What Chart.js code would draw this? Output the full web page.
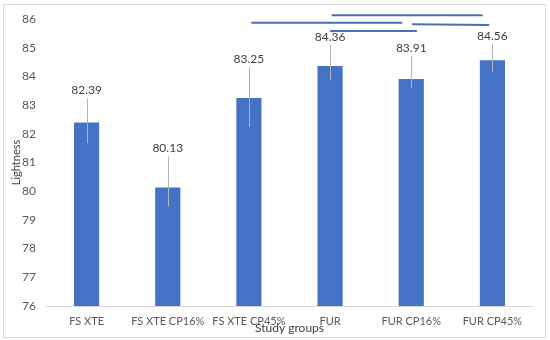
<!DOCTYPE html>
<html>
<head>
<meta charset="utf-8">
<script src="https://cdn.jsdelivr.net/npm/chart.js@4"></script>
<style>
  body { margin: 0; background: #fff; }
  #wrap { position: relative; width: 550px; height: 340px; }
  #frame { position: absolute; left: 3px; top: 4px; width: 541px; height: 332px; border: 1px solid #d9d9d9; }
  #chart { position: absolute; left: 0; top: 0; }
</style>
</head>
<body>
<div id="wrap">
  <div id="frame"></div>
  <canvas id="chart" width="550" height="340"></canvas>
</div>
<script>
// data
const groups = ["FS XTE", "FS XTE CP16%", "FS XTE CP45%", "FUR", "FUR CP16%", "FUR CP45%"];
const lightness = [82.39, 80.13, 83.25, 84.36, 83.91, 84.56];
const errUp = [0.85, 1.08, 1.07, 0.73, 0.80, 0.58];
const errDown = [0.72, 0.66, 1.0, 0.47, 0.30, 0.40];
// significance brackets: [from index, to index, y start, y end]
const sigLines = [
  [3.02, 4.88, 86.13, 86.13],
  [2.03, 3.89, 85.87, 85.87],
  [4.01, 4.96, 85.82, 85.79],
  [3.0, 4.07, 85.58, 85.58],
];
const yTicks = [76, 77, 78, 79, 80, 81, 82, 83, 84, 85, 86];

const FONT = "Lato, 'Open Sans', sans-serif";

// error bars + value labels
const errorBarPlugin = {
  id: "errorBars",
  afterDatasetsDraw(chart) {
    const ctx = chart.ctx;
    const y = chart.scales.y;
    const meta = chart.getDatasetMeta(0);
    ctx.save();
    meta.data.forEach((bar, i) => {
      const top = y.getPixelForValue(lightness[i] + errUp[i]);
      const bot = y.getPixelForValue(lightness[i] - errDown[i]);
      ctx.strokeStyle = "#b4b4b4";
      ctx.lineWidth = 1;
      ctx.beginPath();
      ctx.moveTo(Math.round(bar.x) + 0.5, top);
      ctx.lineTo(Math.round(bar.x) + 0.5, bot);
      ctx.stroke();

      ctx.fillStyle = "#404040";
      ctx.font = "12px " + FONT;
      ctx.textAlign = "center";
      ctx.textBaseline = "middle";
      ctx.fillText(lightness[i].toFixed(2), bar.x, top - 8);
    });
    ctx.restore();
  },
};

// significance lines above the bars
const sigPlugin = {
  id: "sigLines",
  afterDraw(chart) {
    const ctx = chart.ctx;
    const x = chart.scales.x;
    const y = chart.scales.y;
    const step = x.getPixelForValue(1) - x.getPixelForValue(0);
    const x0 = x.getPixelForValue(0);
    ctx.save();
    ctx.strokeStyle = "#4a6fb5";
    ctx.lineWidth = 2;
    sigLines.forEach(([a, b, ya, yb]) => {
      ctx.beginPath();
      ctx.moveTo(x0 + a * step, y.getPixelForValue(ya));
      ctx.lineTo(x0 + b * step, y.getPixelForValue(yb));
      ctx.stroke();
    });
    ctx.restore();
  },
};

new Chart(document.getElementById("chart"), {
  type: "bar",
  data: {
    labels: groups,
    datasets: [
      {
        data: lightness,
        backgroundColor: "#4472c4",
        borderWidth: 0,
        barPercentage: 0.31,
        categoryPercentage: 1,
      },
    ],
  },
  options: {
    responsive: false,
    animation: false,
    layout: { padding: { left: 0, right: 17, top: 19, bottom: 5 } },
    plugins: {
      legend: { display: false },
      tooltip: { enabled: false },
    },
    scales: {
      y: {
        min: 76,
        max: 86,
        afterFit: (s) => { s.width = 46; },
        afterBuildTicks: (s) => { s.ticks = yTicks.map((v) => ({ value: v })); },
        grid: { display: false, drawTicks: false },
        border: { display: false },
        ticks: { color: "#595959", font: { family: FONT, size: 12 }, padding: 10 },
        title: {
          display: true,
          text: "Lightness",
          color: "#404040",
          font: { family: FONT, size: 11 },
          padding: { top: 10, bottom: 0 },
        },
      },
      x: {
        afterFit: (s) => { s.height = 29; },
        grid: { display: false, drawTicks: false },
        border: { display: true, color: "#d9d9d9" },
        ticks: { color: "#595959", font: { family: FONT, size: 11 }, padding: 9, maxRotation: 0 },
        title: {
          display: true,
          text: "Study groups",
          color: "#404040",
          font: { family: FONT, size: 12 },
          padding: 0,
        },
      },
    },
  },
  plugins: [errorBarPlugin, sigPlugin],
});
</script>
</body>
</html>
